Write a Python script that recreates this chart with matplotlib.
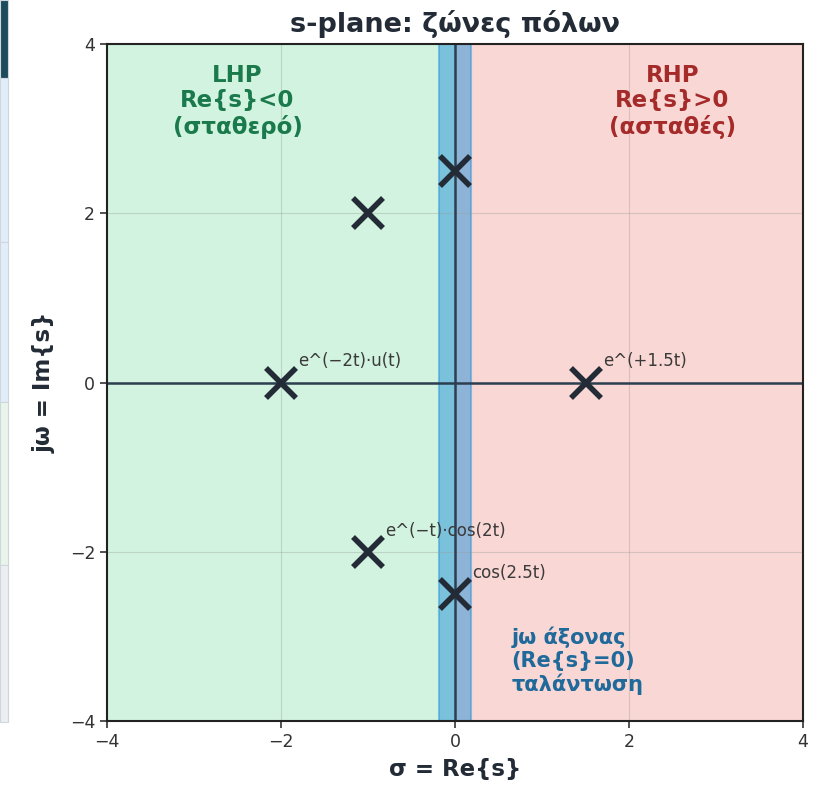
import matplotlib
matplotlib.use("Agg")
import matplotlib.pyplot as plt
from matplotlib.patches import Rectangle

# Pole locations (sigma, omega)
pole_sigma = [-2.0, 1.5, -1.0, -1.0, 0.0, 0.0]
pole_omega = [0.0, 0.0, 2.0, -2.0, 2.5, -2.5]

# Labelled poles and their time-domain responses
label_sigma = [-2.0, 1.5, -1.0, 0.0]
label_omega = [0.0, 0.0, -2.0, -2.5]
label_text = ["e^(\u22122t)\u00b7u(t)", "e^(+1.5t)", "e^(\u2212t)\u00b7cos(2t)", "cos(2.5t)"]

ticks = [-4, -2, 0, 2, 4]

plt.rcParams['font.family'] = ['DejaVu Sans']

fig = plt.figure(figsize=(8.22, 7.86), dpi=100)
ax = fig.add_axes([107 / 822, 1 - 721 / 786, 696 / 822, 677 / 786])

# Page-side panel strip on the left edge
strip = [(0, 78, "#1d4b5c"), (78, 242, "#e1eef9"), (242, 402, "#e1eef9"),
         (402, 565, "#e9f5ea"), (565, 722, "#eceef1")]
for y0, y1, c in strip:
    fig.patches.append(Rectangle((0, 1 - y1 / 786), 8 / 822, (y1 - y0) / 786,
                                 transform=fig.transFigure, facecolor=c,
                                 edgecolor="#cfd6dd", lw=0.8, zorder=0))

ax.set_xlim(-4, 4)
ax.set_ylim(-4, 4)

# Stability regions
ax.axvspan(-4, 0, color="#2ecc71", alpha=0.22, lw=0, zorder=0)
ax.axvspan(0, 4, color="#e74c3c", alpha=0.22, lw=0, zorder=0)
ax.axvspan(-0.18, 0.18, facecolor="#3498db", alpha=0.55, edgecolor="#3498db",
           lw=1.5, zorder=1)

ax.grid(True, color="#999999", alpha=0.35, lw=0.8, zorder=0.5)
ax.axhline(0, color="#2c3e50", lw=1.8, zorder=2)
ax.axvline(0, color="#2c3e50", lw=1.8, zorder=2)

ax.plot(pole_sigma, pole_omega, linestyle="none", marker="x", markersize=22,
        markeredgewidth=4, color="#222b36", zorder=5)

for s, w, t in zip(label_sigma, label_omega, label_text):
    ax.text(s + 0.2, w + 0.25, t, fontsize=12, color="#3a3a3a",
            ha="left", va="center", zorder=6)

ax.text(-2.5, 3.32, "LHP\nRe{s}<0\n(σταθερό)", ha="center", va="center",
        fontsize=16.5, fontweight="bold", color="#1a7a4c", linespacing=1.12)
ax.text(2.5, 3.32, "RHP\nRe{s}>0\n(ασταθές)", ha="center", va="center",
        fontsize=16.5, fontweight="bold", color="#a52a2a", linespacing=1.12)
ax.text(0.65, -3.29, "jω άξονας\n(Re{s}=0)\nταλάντωση", ha="left", va="center",
        fontsize=15, fontweight="bold", color="#1f6a9a", linespacing=1.15)

ax.set_xticks(ticks)
ax.set_yticks(ticks)
ax.tick_params(labelsize=12.5, colors="#333333", length=5, width=1.2)
for sp in ax.spines.values():
    sp.set_linewidth(1.5)
    sp.set_color("#222222")

ax.set_xlabel("σ = Re{s}", fontsize=16.5, fontweight="bold", color="#222b36", labelpad=5)
ax.set_ylabel("jω = Im{s}", fontsize=16.5, fontweight="bold", color="#222b36", labelpad=10)
ax.set_title("s-plane: ζώνες πόλων", fontsize=19.5, fontweight="bold", color="#222b36", pad=9)

fig.savefig("out.png", dpi=100)
